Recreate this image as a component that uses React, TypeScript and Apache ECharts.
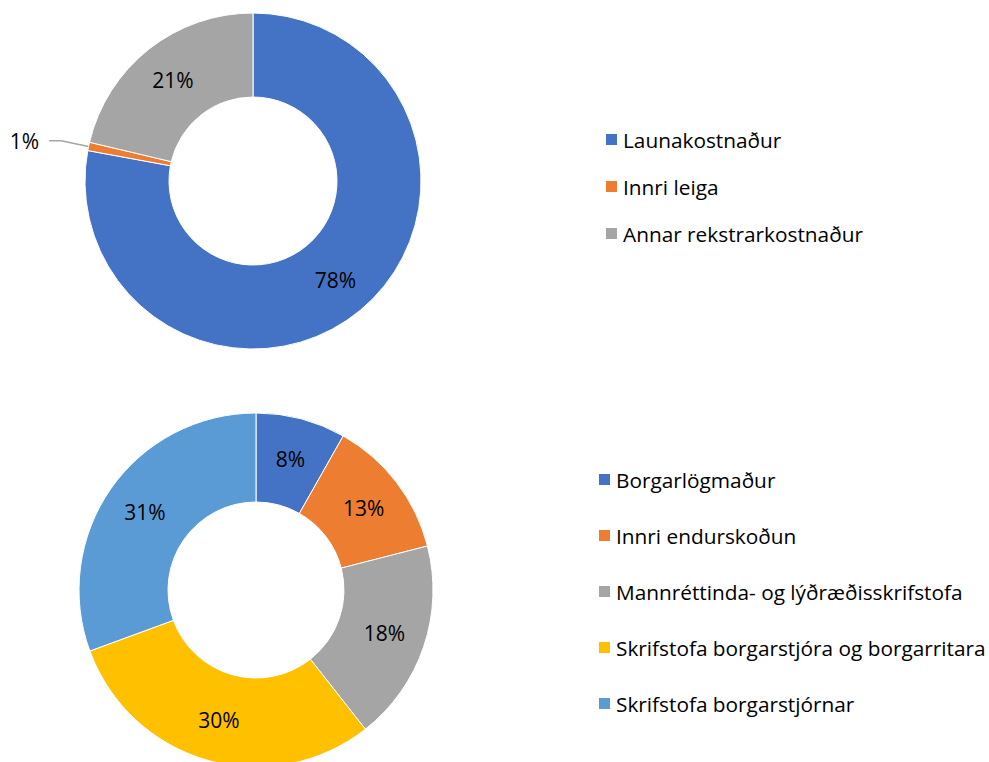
import React, { useEffect, useRef } from "react";
import * as echarts from "echarts";

const topCategories = ["Launakostnaður", "Innri leiga", "Annar rekstrarkostnaður"];
const topValues = [77.9, 0.8, 21.3];
const topColors = ["#4472C4", "#ED7D31", "#A5A5A5"];

const bottomCategories = [
  "Borgarlögmaður",
  "Innri endurskoðun",
  "Mannréttinda- og lýðræðisskrifstofa",
  "Skrifstofa borgarstjóra og borgarritara",
  "Skrifstofa borgarstjórnar",
];
const bottomValues = [8.2, 12.8, 18.4, 30.0, 30.6];
const bottomColors = ["#4472C4", "#ED7D31", "#A5A5A5", "#FFC000", "#5B9BD5"];

const FONT = "'Open Sans', 'Noto Sans', sans-serif";

export default function App() {
  const ref = useRef<HTMLDivElement>(null);
  useEffect(() => {
    if (!ref.current) return;
    const chart = echarts.init(ref.current, null, { renderer: "svg" });
    const pct = (p: any) => Math.round(p.percent) + "%";
    const labelBase = {
      show: true,
      position: "inside",
      formatter: pct,
      color: "#000",
      fontSize: 21,
      fontFamily: FONT,
    };
    const legendText = { fontSize: 20.8, lineHeight: 20, color: "#000", fontFamily: FONT };
    chart.setOption({
      animation: false,
      backgroundColor: "#fff",
      legend: [
        {
          data: topCategories,
          orient: "vertical",
          left: 604,
          top: 129,
          padding: 0,
          icon: "rect",
          itemWidth: 13,
          itemHeight: 13,
          itemGap: 26,
          selectedMode: false,
          textStyle: legendText,
        },
        {
          data: bottomCategories,
          orient: "vertical",
          left: 597,
          top: 469,
          padding: 0,
          icon: "rect",
          itemWidth: 13,
          itemHeight: 13,
          itemGap: 35,
          selectedMode: false,
          textStyle: legendText,
        },
      ],
      series: [
        {
          type: "pie",
          center: [253, 181],
          radius: [84, 168],
          startAngle: 90,
          clockwise: true,
          avoidLabelOverlap: false,
          label: labelBase,
          labelLine: { show: false },
          itemStyle: { borderColor: "#fff", borderWidth: 1 },
          data: topCategories.map((name, i) => {
            const item: any = { name, value: topValues[i], itemStyle: { color: topColors[i] } };
            if (i === 1) {
              item.label = { position: "outside", distanceToLabelLine: 10 };
              item.labelLine = {
                show: true,
                length: 28,
                length2: 12,
                lineStyle: { color: "#A5A5A5", width: 1.5 },
              };
            }
            return item;
          }),
        },
        {
          type: "pie",
          center: [256, 590],
          radius: [88, 177],
          startAngle: 90,
          clockwise: true,
          avoidLabelOverlap: false,
          label: labelBase,
          labelLine: { show: false },
          itemStyle: { borderColor: "#fff", borderWidth: 1 },
          data: bottomCategories.map((name, i) => ({
            name,
            value: bottomValues[i],
            itemStyle: { color: bottomColors[i] },
          })),
        },
      ],
    });
    return () => chart.dispose();
  }, []);
  return (
    <div
      ref={ref}
      style={{ position: "fixed", left: 0, top: 0, width: 989, height: 762, background: "#fff" }}
    />
  );
}
